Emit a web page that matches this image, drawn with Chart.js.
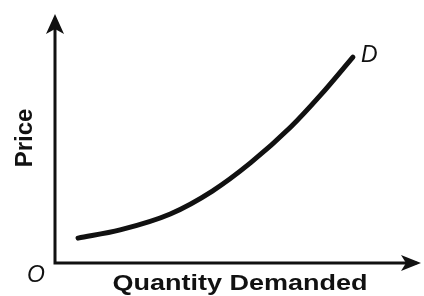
<!DOCTYPE html>
<html>
<head>
<meta charset="utf-8">
<script src="https://cdn.jsdelivr.net/npm/chart.js@4.4.0/dist/chart.umd.min.js"></script>
<style>
  html, body { margin: 0; padding: 0; background: #fff; }
  #wrap { width: 424px; height: 296px; }
</style>
</head>
<body>
<div id="wrap"><canvas id="chartDemand"></canvas></div>
<script>
// values (axis units 0-100)
const quantity = [6.3, 17.8, 31.5, 43.0, 53.4, 64.4, 72.6, 81.4];
const price = [10.0, 13.3, 19.7, 28.9, 40.2, 54.6, 67.5, 82.7];

const xAxisLabel = "Quantity Demanded";
const yAxisLabel = "Price";
const originLabel = "O";
const curveLabel = "D";

const chartElement = document.querySelector("#chartDemand");

// draws the two arrowed axes and the text labels
const axesPlugin = {
  id: "axesPlugin",
  afterDatasetsDraw(chart) {
    const { ctx, chartArea } = chart;
    const x0 = chartArea.left;
    const y0 = chartArea.bottom;
    ctx.save();
    ctx.strokeStyle = "#111";
    ctx.fillStyle = "#111";
    ctx.lineWidth = 3;
    ctx.lineCap = "square";

    ctx.beginPath();
    ctx.moveTo(x0, chartArea.top + 6);
    ctx.lineTo(x0, y0);
    ctx.lineTo(chartArea.right - 6, y0);
    ctx.stroke();

    // arrow heads
    ctx.beginPath();
    ctx.moveTo(x0, chartArea.top);
    ctx.lineTo(x0 - 9, chartArea.top + 20);
    ctx.lineTo(x0, chartArea.top + 15);
    ctx.lineTo(x0 + 9, chartArea.top + 20);
    ctx.closePath();
    ctx.fill();

    ctx.beginPath();
    ctx.moveTo(chartArea.right, y0);
    ctx.lineTo(chartArea.right - 20, y0 - 8);
    ctx.lineTo(chartArea.right - 15, y0);
    ctx.lineTo(chartArea.right - 20, y0 + 8);
    ctx.closePath();
    ctx.fill();

    // x label, stretched to the scanned width
    ctx.font = "bold 22px 'Liberation Sans', Arial, sans-serif";
    ctx.textAlign = "center";
    ctx.textBaseline = "alphabetic";
    const w = ctx.measureText(xAxisLabel).width;
    ctx.save();
    ctx.translate(240, 290);
    ctx.scale(255 / w, 1);
    ctx.fillText(xAxisLabel, 0, 0);
    ctx.restore();

    // y label
    ctx.save();
    ctx.translate(32, 138);
    ctx.rotate(-Math.PI / 2);
    ctx.font = "bold 24px 'Liberation Sans', Arial, sans-serif";
    ctx.textAlign = "center";
    ctx.fillText(yAxisLabel, 0, 0);
    ctx.restore();

    ctx.font = "italic 23px 'Liberation Sans', Arial, sans-serif";
    ctx.textAlign = "center";
    ctx.fillText(originLabel, 36, 282);
    ctx.textAlign = "left";
    ctx.fillText(curveLabel, 361, 62);
    ctx.restore();
  },
};

new Chart(chartElement, {
  type: "scatter",
  data: {
    datasets: [
      {
        label: "Demand",
        data: quantity.map((q, i) => ({ x: q, y: price[i] })),
        showLine: true,
        borderColor: "#111",
        borderWidth: 5,
        borderCapStyle: "round",
        pointRadius: 0,
        cubicInterpolationMode: "monotone",
      },
    ],
  },
  options: {
    responsive: true,
    maintainAspectRatio: false,
    animation: false,
    layout: { padding: { left: 55, right: 3, top: 14, bottom: 33 } },
    plugins: { legend: { display: false }, tooltip: { enabled: false } },
    scales: {
      x: { display: false, min: 0, max: 100 },
      y: { display: false, min: 0, max: 100 },
    },
  },
  plugins: [axesPlugin],
});
</script>
</body>
</html>
